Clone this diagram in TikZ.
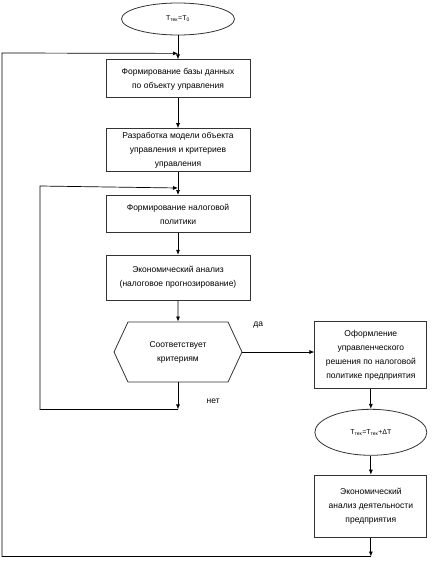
\documentclass[tikz,border=0pt]{standalone}
\usepackage{fontspec}
\setmainfont{Liberation Sans}
\usetikzlibrary{arrows.meta,positioning,shapes.geometric,shapes.symbols}

\begin{document}
\begin{tikzpicture}[
  x=1pt, y=-1pt,
  font=\fontsize{8.5}{14}\selectfont,
  box/.style={rectangle, draw=black!80, line width=0.8pt,
              minimum width=144pt, align=center, inner sep=2pt},
  boxr/.style={box, minimum width=112pt},
  oval/.style={ellipse, draw=black!80, line width=0.8pt, inner sep=1pt},
  hexa/.style={signal, signal to=west and east, signal pointer angle=130,
               draw=black!80, line width=0.8pt, minimum width=128pt,
               minimum height=60pt, align=center},
  arr/.style={-{Latex[length=5pt,width=4pt]}, line width=0.7pt},
  lbl/.style={font=\fontsize{8.5}{10}\selectfont}
]
\useasboundingbox (0,0) rectangle (443,565);

\node[oval, minimum width=113pt, minimum height=32pt] (start) at (178,19)
  {\fontsize{7}{8}\selectfont T\textsubscript{тек}=T\textsubscript{0}};
\node[box, minimum height=38pt, below=24pt of start] (db)
  {Формирование базы данных\\ по объекту управления};
\node[box, minimum height=43pt, below=30pt of db] (model)
  {Разработка модели объекта\\ управления и критериев\\ управления};
\node[box, minimum height=37pt, below=23pt of model] (pol)
  {Формирование налоговой\\ политики};
\node[box, minimum height=45pt, below=22pt of pol] (anl)
  {Экономический анализ\\ (налоговое прогнозирование)};
\node[hexa, below=21pt of anl] (crit) {Соответствует\\ критериям};
\node[boxr, minimum height=67pt, right=72pt of crit, yshift=-3pt] (res)
  {Оформление\\ управленческого\\ решения по налоговой\\ политике предприятия};
\node[oval, minimum width=112pt, minimum height=46pt, below=20pt of res] (step)
  {\fontsize{7}{8}\selectfont T\textsubscript{тек}=T\textsubscript{тек}+ΔT};
\node[boxr, minimum height=62pt, below=19pt of step] (fin)
  {Экономический\\ анализ деятельности\\ предприятия};

% points where the loops join
\coordinate (j1) at ([yshift=6pt]db.north);
\coordinate (j2) at ([yshift=7pt]pol.north);
\coordinate (c4) at ([yshift=-27pt]crit.south);
\coordinate (c6) at ([yshift=-19pt]fin.south);
\coordinate (ol) at (2,53);
\coordinate (il) at (40,186);

\draw[arr] (start) -- (db);
\draw[arr] (db) -- (model);
\draw[arr] (model) -- (pol);
\draw[arr] (pol) -- (anl);
\draw[arr] (anl) -- (crit);
\draw[arr] (crit.east) -- (res.west |- crit.east) node[lbl, pos=0.22, above=20pt] {да};
\draw[arr] (res) -- (step);
\draw[arr] (step) -- (fin);

% inner loop
\draw[arr] (crit.south) -- (c4) node[lbl, right=25pt, yshift=8pt] {нет};
\draw[arr] (c4) -| (il) -- (j2);

% outer loop
\draw[arr] (fin.south) -- (c6);
\draw[arr] (c6) -| (ol) -- (j1);
\end{tikzpicture}
\end{document}
